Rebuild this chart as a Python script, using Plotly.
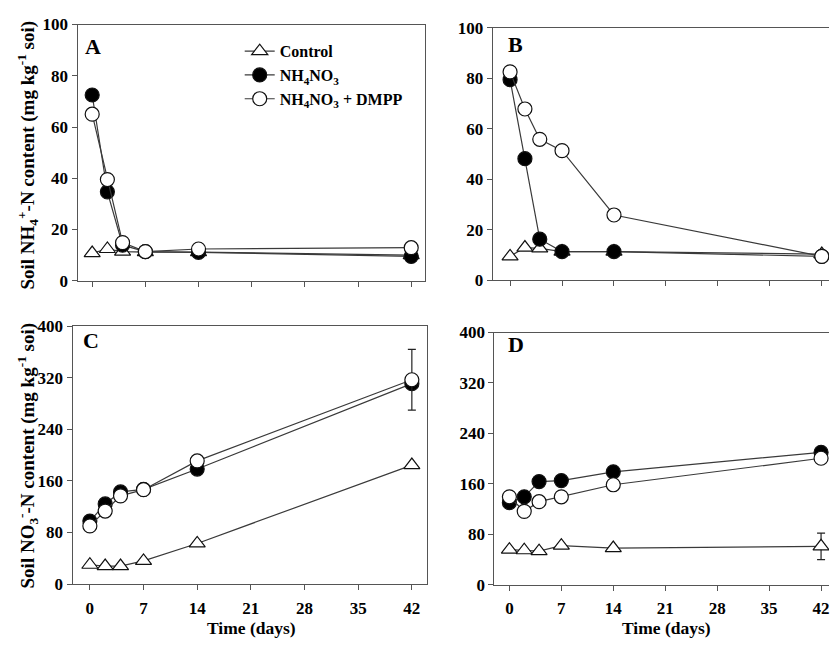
import plotly.graph_objects as go

W, H = 830, 647

days = [0, 2, 4, 7, 14, 42]

# Panel A: soil NH4+-N, soil 1
a_control = [10.8, 12.4, 11.4, 11.2, 11.2, 10.0]
a_nh4no3 = [72.5, 34.7, 13.9, 11.4, 11.1, 9.5]
a_dmpp = [65.0, 39.5, 14.9, 11.4, 12.4, 12.9]

# Panel B: soil NH4+-N, soil 2
b_control = [9.4, 12.9, 12.6, 11.3, 11.3, 10.3]
b_nh4no3 = [79.4, 48.1, 16.2, 11.3, 11.3, 9.4]
b_dmpp = [82.5, 67.8, 55.8, 51.3, 25.8, 9.4]

# Panel C: soil NO3--N, soil 1
c_control = [30, 28, 28, 36, 63, 184.5]
c_nh4no3 = [97.7, 124.3, 142.9, 146.9, 178.4, 310.8]
c_dmpp = [90.2, 113.3, 136.8, 146.4, 191.0, 316.8]
c_dmpp_err = [None, None, None, None, None, 47]

# Panel D: soil NO3--N, soil 2
d_control = [55.5, 54.5, 53.0, 61.7, 58.0, 60.7]
d_control_err = [None, None, None, None, None, 21]
d_nh4no3 = [130.0, 139.3, 163.5, 165.0, 178.9, 209.8]
d_dmpp = [139.3, 116.2, 131.6, 139.3, 158.4, 200.5]

x_ticks = [0, 7, 14, 21, 28, 35, 42]
nh4_ticks = [0, 20, 40, 60, 80, 100]
no3_ticks = [0, 80, 160, 240, 320, 400]

names = ["<b>Control</b>", "<b>NH<sub>4</sub>NO<sub>3</sub></b>", "<b>NH<sub>4</sub>NO<sub>3</sub> + DMPP</b>"]
panel_labels = ["A", "B", "C", "D"]

FONT = "Liberation Serif"
LINE = "#3a3a3a"
AX = "#555555"

def px_x(p):
    return p / W

def px_y(p):
    return 1 - p / H

# panel geometry (pixels): left, right, top, bottom
geo = {
    1: (77.7, 425.7, 16.0, 280.0),
    2: (493.3, 830.0, 19.3, 279.3),
    3: (72.7, 427.7, 326.7, 592.5),
    4: (495.0, 830.0, 333.3, 593.0),
}
xranges = {1: [-1.92, 43.84], 2: [-2.34, 42.97], 3: [-2.25, 44.0], 4: [-2.02, 43.07]}

fig = go.Figure()

def add_panel(k, ctrl, nh, dm, ctrl_err=None, dm_err=None, legend=False):
    xa = "x" if k == 1 else f"x{k}"
    ya = "y" if k == 1 else f"y{k}"
    common = dict(x=days, mode="lines+markers", xaxis=xa, yaxis=ya,
                  line=dict(color=LINE, width=1.2), showlegend=legend)
    ce = dict(type="data", array=ctrl_err, visible=True, color="#222", thickness=1.2, width=4) if ctrl_err else None
    de = dict(type="data", array=dm_err, visible=True, color="#222", thickness=1.2, width=4) if dm_err else None
    fig.add_trace(go.Scatter(y=ctrl, name=names[0], error_y=ce,
                             marker=dict(symbol="triangle-up", size=14, color="white",
                                         line=dict(color="#111", width=1.2)), **common))
    fig.add_trace(go.Scatter(y=nh, name=names[1],
                             marker=dict(symbol="circle", size=14, color="black",
                                         line=dict(color="#111", width=1.2)), **common))
    fig.add_trace(go.Scatter(y=dm, name=names[2], error_y=de,
                             marker=dict(symbol="circle", size=14, color="white",
                                         line=dict(color="#111", width=1.2)), **common))

add_panel(1, a_control, a_nh4no3, a_dmpp, legend=True)
add_panel(2, b_control, b_nh4no3, b_dmpp)
add_panel(3, c_control, c_nh4no3, c_dmpp, dm_err=c_dmpp_err)
add_panel(4, d_control, d_nh4no3, d_dmpp, ctrl_err=d_control_err)

# empty traces so that the tick-label axes of the bottom panels are drawn
for newk, k in ((5, 3), (6, 4)):
    fig.add_trace(go.Scatter(x=[], y=[], xaxis=f"x{newk}", yaxis=f"y{k}",
                             showlegend=False, hoverinfo="skip"))

tickfont = dict(family=FONT, size=17, color="black")

layout_axes = {}
for k in range(1, 5):
    l, r, t, b = geo[k]
    xname = "xaxis" if k == 1 else f"xaxis{k}"
    yname = "yaxis" if k == 1 else f"yaxis{k}"
    ya = "y" if k == 1 else f"y{k}"
    xa = "x" if k == 1 else f"x{k}"
    right_open = k in (2, 4)
    layout_axes[xname] = dict(
        domain=[px_x(l), px_x(r)], range=xranges[k], anchor=ya,
        tickmode="array", tickvals=x_ticks,
        showticklabels=False, ticks="outside", ticklen=5, tickcolor=AX,
        showline=True, linecolor=AX, linewidth=1.2, mirror=True,
        showgrid=False, zeroline=False,
    )
    yt = nh4_ticks if k in (1, 2) else no3_ticks
    layout_axes[yname] = dict(
        domain=[px_y(b), px_y(t)], range=[yt[0], yt[-1]], anchor=xa,
        tickmode="array", tickvals=yt, ticktext=[f"<b>{v}</b>" for v in yt],
        ticks="outside", ticklen=5, tickcolor=AX,
        showline=True, linecolor=AX, linewidth=1.2, mirror=not right_open,
        showgrid=False, zeroline=False, tickfont=tickfont,
    )

# tick-label axes for the bottom panels (labels set a little below the spine)
for k, newk in ((3, 5), (4, 6)):
    l, r, t, b = geo[k]
    layout_axes[f"xaxis{newk}"] = dict(
        domain=[px_x(l), px_x(r)], range=xranges[k], anchor="free", overlaying=f"x{k}",
        position=px_y(b + 12),
        tickmode="array", tickvals=x_ticks, ticktext=[f"<b>{v}</b>" for v in x_ticks],
        showticklabels=True, ticks="", showline=False, showgrid=False, zeroline=False,
        ticklabeloverflow="allow", tickfont=tickfont,
    )

annotations = []
label_pos = {1: (83, 39), 2: (507, 37), 3: (81, 342), 4: (507, 346)}
for k, lab in zip(range(1, 5), panel_labels):
    x, y = label_pos[k]
    annotations.append(dict(text=f"<b>{lab}</b>", x=px_x(x), y=px_y(y), xref="paper", yref="paper",
                            xanchor="left", yanchor="middle", showarrow=False,
                            font=dict(family=FONT, size=22, color="black")))

ytitle_font = dict(family=FONT, size=19, color="black")
annotations.append(dict(text="<b>Soil NH<sub>4</sub><sup>+</sup>-N content (mg kg<sup>-1</sup> soi)</b>",
                        x=px_x(28), y=px_y(150), xref="paper", yref="paper", textangle=-90,
                        xanchor="center", yanchor="middle", showarrow=False, font=ytitle_font))
annotations.append(dict(text="<b>Soil NO<sub>3</sub><sup>-</sup>-N content (mg kg<sup>-1</sup> soi)</b>",
                        x=px_x(28), y=px_y(460), xref="paper", yref="paper", textangle=-90,
                        xanchor="center", yanchor="middle", showarrow=False, font=ytitle_font))
for cx in (252, 667):
    annotations.append(dict(text="<b>Time (days)</b>", x=px_x(cx), y=px_y(638), xref="paper", yref="paper",
                            xanchor="center", yanchor="middle", showarrow=False,
                            font=dict(family=FONT, size=17.5, color="black")))

fig.update_layout(
    width=W, height=H, margin=dict(l=0, r=0, t=0, b=0),
    paper_bgcolor="white", plot_bgcolor="white",
    annotations=annotations,
    legend=dict(x=px_x(240), y=px_y(26), xanchor="left", yanchor="top",
                bgcolor="rgba(0,0,0,0)", tracegroupgap=0, itemwidth=30,
                font=dict(family=FONT, size=16, color="black")),
    **layout_axes,
)

fig.write_html("out.html")
